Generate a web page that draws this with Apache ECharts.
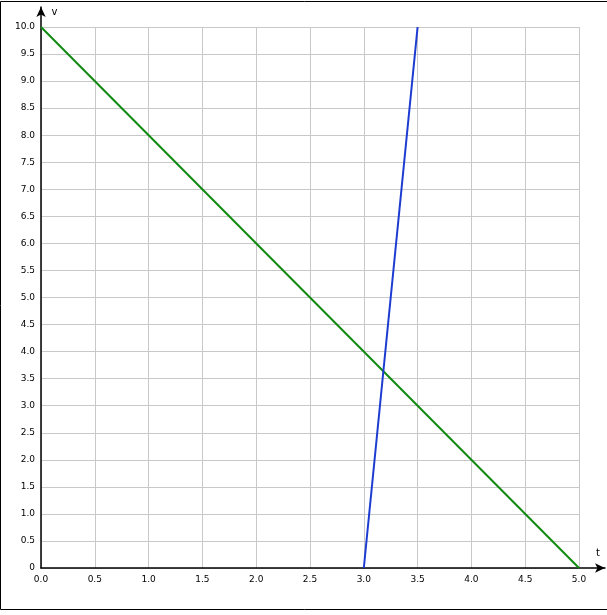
<!DOCTYPE html>
<html>
<head>
<meta charset="utf-8">
<script src="https://cdn.jsdelivr.net/npm/echarts@6/dist/echarts.min.js"></script>
<style>html,body{margin:0;padding:0;background:#fff;}#c{width:607px;height:615px;}</style>
</head>
<body>
<div id="c"></div>
<script>
// Data
var greenLine = [[0, 10], [5, 0]];
var blueLine = [[3, 0], [3.5, 10]];
var xMin = 0, xMax = 5, xStep = 0.5;
var yMin = 0, yMax = 10, yStep = 0.5;
var xName = 't';
var yName = 'v';

var chart = echarts.init(document.getElementById('c'), null, {renderer: 'canvas'});
var font = 'DejaVu Sans';
chart.setOption({
  animation: false,
  backgroundColor: '#fff',
  graphic: [{
    type: 'rect', shape: {x: 0.5, y: 1.5, width: 610, height: 608},
    style: {fill: 'none', stroke: '#000', lineWidth: 1}, z: 100
  }],
  grid: [
    {left: 41, right: 28, top: 27, bottom: 47},
    {left: 41, right: 2, top: 7, bottom: 47}
  ],
  xAxis: [{
    gridIndex: 0, type: 'value', min: xMin, max: xMax, interval: xStep,
    axisLine: {show: false}, axisTick: {show: false},
    splitLine: {show: true, lineStyle: {color: '#c8c8c8', width: 1}},
    axisLabel: {color: '#000', fontFamily: font, fontSize: 9, margin: 7,
      formatter: function (v) { return v.toFixed(1); }}
  }, {
    gridIndex: 1, type: 'value', min: 0, max: 1,
    axisLine: {show: true, symbol: ['none', 'arrow'], symbolSize: [7, 10], lineStyle: {color: '#000', width: 1.5}},
    axisTick: {show: false}, axisLabel: {show: false}, splitLine: {show: false},
    name: xName, nameLocation: 'end', nameGap: -9,
    nameTextStyle: {color: '#000', fontFamily: font, fontSize: 10, verticalAlign: 'bottom', align: 'left', padding: [0, 0, 10, 0]}
  }],
  yAxis: [{
    gridIndex: 0, type: 'value', min: yMin, max: yMax, interval: yStep,
    axisLine: {show: false}, axisTick: {show: false},
    splitLine: {show: true, lineStyle: {color: '#c8c8c8', width: 1}},
    axisLabel: {color: '#000', fontFamily: font, fontSize: 9, margin: 6,
      formatter: function (v) { return v === 0 ? '0' : v.toFixed(1); }}
  }, {
    gridIndex: 1, type: 'value', min: 0, max: 1,
    axisLine: {show: true, symbol: ['none', 'arrow'], symbolSize: [7, 10], lineStyle: {color: '#000', width: 1.5}},
    axisTick: {show: false}, axisLabel: {show: false}, splitLine: {show: false},
    name: yName, nameLocation: 'end', nameGap: -10,
    nameTextStyle: {color: '#000', fontFamily: font, fontSize: 10, padding: [0, 0, 0, 27]}
  }],
  series: [{
    type: 'line', xAxisIndex: 0, yAxisIndex: 0, data: greenLine,
    showSymbol: false, symbol: 'none', lineStyle: {color: '#108a10', width: 2}, z: 5
  }, {
    type: 'line', xAxisIndex: 0, yAxisIndex: 0, data: blueLine,
    showSymbol: false, symbol: 'none', lineStyle: {color: '#1c3bd0', width: 2}, z: 5
  }]
});
</script>
</body>
</html>
